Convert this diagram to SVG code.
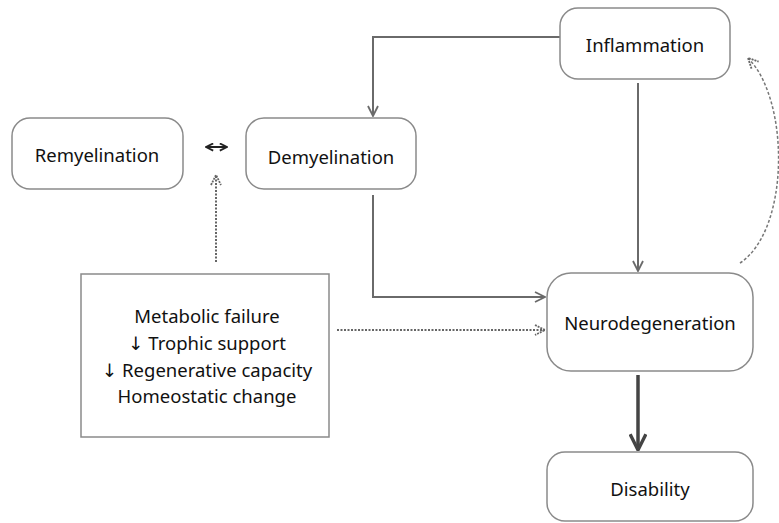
<svg xmlns="http://www.w3.org/2000/svg" width="779" height="523" viewBox="0 0 779 523">
<style>
.box{fill:#fff;stroke:#8a8a8a;stroke-width:1.5}
.t{font-family:"Noto Sans","Open Sans",sans-serif;font-size:18.5px;fill:#111;text-anchor:middle}
.ar{font-family:"DejaVu Sans",sans-serif;fill:#111}
.ln{fill:none;stroke:#6a6a6a;stroke-width:2}
.dot{fill:none;stroke:#666;stroke-width:2;stroke-dasharray:2 1.5}
.dash{fill:none;stroke:#777;stroke-width:1.5;stroke-dasharray:3 2}
</style>
<defs>
<marker id="a" viewBox="0 0 12 12" refX="11" refY="6" markerWidth="12" markerHeight="12" markerUnits="userSpaceOnUse" orient="auto"><path d="M1,1 L11,6 L1,11" fill="none" stroke="#6a6a6a" stroke-width="1.8"/></marker>
<marker id="ad" viewBox="0 0 12 12" refX="11" refY="6" markerWidth="12" markerHeight="12" markerUnits="userSpaceOnUse" orient="auto"><path d="M1,1 L11,6 L1,11" fill="none" stroke="#666" stroke-width="1.8" stroke-dasharray="2 1"/></marker>
<marker id="ab" viewBox="0 0 16 16" refX="15" refY="8" markerWidth="18" markerHeight="18" markerUnits="userSpaceOnUse" orient="auto"><path d="M1,1 L15,8 L1,15" fill="none" stroke="#444" stroke-width="3"/></marker>
<marker id="as" viewBox="0 0 10 10" refX="9" refY="5" markerWidth="9" markerHeight="9" markerUnits="userSpaceOnUse" orient="auto-start-reverse"><path d="M1,1 L9,5 L1,9" fill="none" stroke="#222" stroke-width="2"/></marker>
</defs>
<g id="connectors">
<path class="ln" d="M560,37 H373 V116" marker-end="url(#a)"/>
<path class="ln" d="M638,83 V271" marker-end="url(#a)"/>
<path class="ln" d="M373,195 V297 H545" marker-end="url(#a)"/>
<path class="dot" d="M337,330 H545" marker-end="url(#ad)"/>
<path class="dot" d="M216,262 V175" marker-end="url(#ad)"/>
<path class="dash" d="M740,263 C790,230 790,100 748,58" marker-end="url(#ad)"/>
<path d="M638,375 V450" fill="none" stroke="#444" stroke-width="3.5" marker-end="url(#ab)"/>
<path d="M206,147 H227" fill="none" stroke="#222" stroke-width="2" marker-start="url(#as)" marker-end="url(#as)"/>
</g>
<g id="remyelination"><rect class="box" x="12" y="118" width="171" height="71" rx="18"/><text class="t" x="97" y="162">Remyelination</text></g>
<g id="demyelination"><rect class="box" x="246" y="118" width="170" height="71" rx="18"/><text class="t" x="331" y="164">Demyelination</text></g>
<g id="inflammation"><rect class="box" x="560" y="8" width="170" height="71" rx="18"/><text class="t" x="645" y="52">Inflammation</text></g>
<g id="neurodegeneration"><rect class="box" x="547" y="273" width="206" height="98" rx="24"/><text class="t" x="650" y="330">Neurodegeneration</text></g>
<g id="disability"><rect class="box" x="547" y="452" width="206" height="69" rx="18"/><text class="t" x="650" y="496">Disability</text></g>
<g id="metabolic"><rect class="box" x="81" y="274" width="248" height="163"/>
<text class="t" x="207" y="323">Metabolic failure</text>
<text class="t" x="207" y="350"><tspan class="ar">↓</tspan> Trophic support</text>
<text class="t" x="207" y="377"><tspan class="ar">↓</tspan> Regenerative capacity</text>
<text class="t" x="207" y="403">Homeostatic change</text></g>
</svg>
